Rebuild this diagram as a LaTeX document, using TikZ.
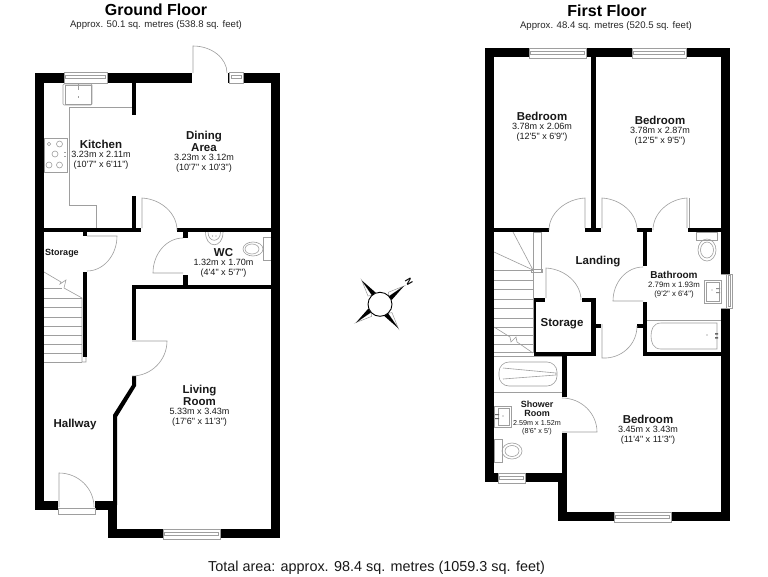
\documentclass[tikz,border=0pt]{standalone}
\usepackage{fontspec}
\newfontfamily\lab{Liberation Sans}
\newcommand{\nm}[1]{{\fontsize{11.5}{12}\selectfont\bfseries #1}}
\newcommand{\wall}[4]{\fill[black] (#1,#2) rectangle (#3,#4);}
\newcommand{\doorleaf}[6]{\draw[fix] (#1,#2) -- (#3,#4) .. controls ({#3+.55*(#5-#1)},{#4+.55*(#6-#2)}) and ({#5+.55*(#3-#1)},{#6+.55*(#4-#2)}) .. (#5,#6);}
\newcommand{\winh}[4]{\draw[fix,fill=white] (#1,#2) rectangle (#3,#4);
  \draw[fix] ({#1+1.5},{#2+3}) rectangle ({#3-1.5},{#2+6});}
\newcommand{\winv}[4]{\draw[fix,fill=white] (#1,#2) rectangle (#3,#4);
  \draw[fix] ({#1+2},{#2+1.5}) rectangle ({#1+4},{#4-1.5});}
\tikzset{
  fix/.style={draw=black!38,line width=.6pt},
  title/.style={font=\lab\fontsize{16}{18}\selectfont\bfseries,inner sep=0pt},
  subtitle/.style={font=\lab\fontsize{9.6}{11}\selectfont,text=black!85,inner sep=0pt},
  room/.style={font=\lab\fontsize{9.05}{10}\selectfont,align=center,inner sep=0pt,text=black!90},
  rname/.style={font=\lab\fontsize{11.5}{12}\selectfont\bfseries,align=center,inner sep=0pt,text=black!90},
}
\begin{document}
\begin{tikzpicture}[x=1pt,y=-1pt]
\useasboundingbox (0,0) rectangle (768,576);
\fill[white] (0,0) rectangle (768,576);
% ===== Ground floor fittings
\draw[fix] (132,107) -- (69,107) -- (69,205) -- (96,205) -- (96,228);
\draw[fix,rounded corners=1pt] (63,84) rectangle (92,105);
\draw[fix] (65,85) rectangle (91,104);
\draw[fix] (78,84) -- (78,90) (78,96) -- (78,98) (76,83.5) -- (80,83.5);
\draw[fix] (44,138) rectangle (67,172);
\foreach \p/\r in {{49,144}/1.8,{59.5,144}/3,{55,154}/3,{49,165}/3,{59.5,165}/3}{\draw[fix] (\p) circle (\r);}
\draw[fix] (64,152) -- (66,152) (64,156) -- (66,156);
% ground stairs
\foreach \y in {298,307,317,326,335,344,353,362}{\draw[fix] (44,\y) -- (82,\y);}
\draw[fix] (44,288) -- (62,288);
\draw[fix] (44,272) -- (61,282) -- (60,284) -- (66,280) -- (64,288) -- (82,298) -- (82,362) -- (86,362) -- (86,353);
% WC fittings
\draw[fix] (205.5,232) .. controls (205.5,249) and (223,249) .. (223,232);
\draw[fix] (208,232) .. controls (208,243) and (220.5,243) .. (220.5,232);
\fill[black!45] (212.5,236) circle (.7) (216,236) circle (.7);
\draw[fix] (263,237) rectangle (271,260);
\draw[fix] (253,249) ellipse (10 and 7);
\draw[fix] (252,249) ellipse (7 and 5);
% ===== Ground floor walls
\wall{35}{73}{64}{83}\wall{107}{73}{192}{83}\wall{243}{73}{280}{83}
\wall{228}{73}{229}{83}
\wall{35}{73}{44}{510}\wall{271}{73}{280}{538}
\wall{35}{501}{58}{510}\wall{95}{501}{117}{510}
\wall{108}{505}{117}{538}\wall{108}{529}{163}{538}\wall{220}{529}{280}{538}
\wall{132}{83}{136}{115}\wall{132}{196}{136}{228}
\wall{44}{228}{141}{232}\wall{177}{228}{271}{232}
\wall{183}{232}{188}{238}\wall{183}{275}{188}{285}
\wall{83}{232}{87}{236}\wall{83}{272}{87}{357}
\wall{132}{285}{271}{289}\wall{132}{285}{136}{340}
\fill[black] (132,376) -- (136,376) -- (136,386) -- (117,417) -- (117,505) -- (113,505) -- (113,415) -- (132,385) -- cycle;
% Ground floor windows and doors
\winh{64}{72}{107}{83}
\draw[fix,fill=white] (229,72) rectangle (243,83);
\draw[fix] (231,75) rectangle (241,78);
\winh{163}{529}{220}{539}
\draw[fix,fill=white] (58,508) rectangle (95,514);
\doorleaf{193}{73}{193}{46}{227}{73}
\doorleaf{142}{228}{142}{198}{177}{230}
\doorleaf{183}{273}{153}{273}{183}{238}
\doorleaf{87}{236}{117}{236}{87}{271}
\doorleaf{132}{341}{167}{341}{132}{376}
\doorleaf{59}{507}{59}{473}{94}{507}
% ===== First floor fittings
\draw[fix] (696,232) rectangle (717,240);
\draw[fix] (707,250) ellipse (9 and 11);
\draw[fix] (707,250) ellipse (6.5 and 8);
\draw[fix] (704,280) rectangle (721,303);
\draw[fix] (706,282) rectangle (719,301);
\fill[black!45] (716,288) rectangle (720,289) (716,292) rectangle (720,293) (712,290) circle (.7);
\draw[fix] (647,320) -- (721,320);
\draw[fix] (661,323) -- (717,323) -- (717,349) -- (661,349) .. controls (653,349) and (651,342) .. (651,336) .. controls (651,330) and (653,323) .. (661,323);
\fill[black!60] (715,333) rectangle (718,334.5) (715,337) rectangle (718,338.5) (707,335) circle (.7);
\draw[fix,rounded corners=10pt] (499,362) rectangle (557,386);
\draw[fix] (503,368) -- (556,373) -- (556,375) -- (503,379);
\draw[fix] (494,356) -- (562,356);
\draw[fix] (494,392) -- (562,392);
\draw[fix] (494,406) rectangle (511,427);
\draw[fix] (498,408) rectangle (509,425);
\fill[black!60] (495,414) rectangle (499,415) (495,418) rectangle (499,419) (503,416) circle (.7);
\draw[fix] (494,439) rectangle (502,462);
\draw[fix] (512,451) ellipse (10 and 8);
\draw[fix] (512,451) ellipse (7 and 5.5);
% first floor stairs
\foreach \y in {270,280,289,299,308,318,327,335,344,352}{\draw[fix] (494,\y) -- (533,\y);}
\draw[fix] (513,232) -- (533,270) (494,252) -- (533,270);
\draw[fix] (533,232) -- (533,353);
\draw[fix] (533,232) rectangle (541,272);
\draw[fix] (531,269) rectangle (542,272);
\draw[fix] (494,327) -- (510,337) -- (511,342) -- (516,337) -- (517,342) -- (533,353);
% ===== First floor walls
\wall{485}{48}{529}{57}\wall{586}{48}{632}{57}\wall{686}{48}{730}{57}
\wall{485}{48}{494}{482}\wall{721}{48}{730}{274}\wall{721}{308}{730}{521}
\wall{591}{57}{596}{232}
\wall{494}{228}{549}{232}\wall{585}{228}{601}{232}\wall{637}{228}{652}{232}\wall{688}{228}{721}{232}
\wall{485}{473}{498}{482}\wall{525}{473}{567}{482}
\wall{558}{473}{567}{521}\wall{558}{512}{614}{521}\wall{671}{512}{730}{521}
\wall{562}{352}{567}{397}\wall{562}{433}{567}{482}
\wall{534}{298}{536}{356}\wall{534}{298}{545}{302}\wall{582}{298}{596}{302}
\wall{591}{298}{596}{356}\wall{534}{352}{596}{356}
\wall{596}{324}{601}{328}\wall{637}{324}{643}{328}
\wall{643}{232}{647}{266}\wall{643}{302}{647}{356}\wall{643}{352}{721}{356}
% First floor windows and doors
\winh{529}{48}{586}{58}\winh{632}{48}{686}{58}
\winh{498}{473}{525}{483}\winh{614}{512}{671}{522}
\winv{726}{274}{732}{308}
\draw[fix] (721,274) -- (726,274) (721,308) -- (726,308);
\doorleaf{585}{228}{585}{198}{549}{230}
\doorleaf{602}{228}{602}{198}{637}{230}
\doorleaf{687}{228}{687}{198}{653}{230}
\draw[fix] (689,198) -- (689,228);
\doorleaf{643}{301}{613}{301}{643}{267}
\doorleaf{546}{298}{546}{268}{581}{300}
\doorleaf{602}{324}{602}{358}{637}{326}
\doorleaf{562}{432}{597}{432}{562}{398}
% ===== Compass
\begin{scope}[shift={(380,304.3)}]
\foreach \a in {0,90,180,270}{
  \begin{scope}[rotate=\a]
  \fill[white,draw=black!40,line width=.5pt] (24,-18.3) -- (8.3,-12) -- (9,-8) -- cycle;
  \fill[black] (24,-18.3) -- (11.7,-4.3) -- (9,-8) -- cycle;
  \end{scope}
}
\node[draw=black,fill=white,line width=.9pt,circle,minimum size=24pt,inner sep=0pt] (compass) at (0,0) {};
\end{scope}
\node[font=\lab\fontsize{9}{10}\selectfont\bfseries,rotate=-60,inner sep=0pt] (north) at (409,282) {N};
% ===== Text
\node[title] (gtitle) at (156,10) {Ground Floor};
\node[subtitle] (gsub) at (156,25) {Approx. 50.1 sq. metres (538.8 sq. feet)};
\node[title] (ftitle) at (607,11) {First Floor};
\node[subtitle] (fsub) at (606,26.5) {Approx. 48.4 sq. metres (520.5 sq. feet)};
\node[font=\lab\fontsize{14.4}{16}\selectfont,inner sep=0pt,text=black!90] (total) at (376.5,567.5) {Total area: approx. 98.4 sq. metres (1059.3 sq. feet)};
\node[room] (kitchen) at (101,154.5) {\nm{Kitchen}\\[-1pt]3.23m x 2.11m\\(10'7" x 6'11")};
\node[room] (dining) at (204,151.5) {\nm{Dining}\\[.5pt]\nm{Area}\\[-1pt]3.23m x 3.12m\\(10'7" x 10'3")};
\node[room] (wc) at (223.5,262.5) {\nm{WC}\\[-1pt]1.32m x 1.70m\\(4'4" x 5'7")};
\node[rname,font=\lab\fontsize{9}{10}\selectfont\bfseries] (gstorage) at (62,253) {Storage};
\node[rname] (hallway) at (75,424.5) {Hallway};
\node[room] (living) at (199.5,406) {\nm{Living}\\[.5pt]\nm{Room}\\[-1pt]5.33m x 3.43m\\(17'6" x 11'3")};
\node[room] (bed1) at (542,126.5) {\nm{Bedroom}\\[-1pt]3.78m x 2.06m\\(12'5" x 6'9")};
\node[room] (bed2) at (660,131) {\nm{Bedroom}\\[-1pt]3.78m x 2.87m\\(12'5" x 9'5")};
\node[rname] (landing) at (598,261.5) {Landing};
\node[room,font=\lab\fontsize{7.8}{9}\selectfont] (bath) at (674,285) {{\fontsize{10}{11}\selectfont\bfseries Bathroom}\\2.79m x 1.93m\\(9'2" x 6'4")};
\node[rname] (fstorage) at (562,323.5) {Storage};
\node[room,font=\lab\fontsize{7.2}{8.5}\selectfont] (shower) at (537,418) {{\fontsize{9}{9}\selectfont\bfseries Shower}\\[.8pt]{\fontsize{9}{9}\selectfont\bfseries Room}\\2.59m x 1.52m\\(8'6" x 5')};
\node[room] (bed3) at (648,429.5) {\nm{Bedroom}\\[-1pt]3.45m x 3.43m\\(11'4" x 11'3")};
\end{tikzpicture}
\end{document}
